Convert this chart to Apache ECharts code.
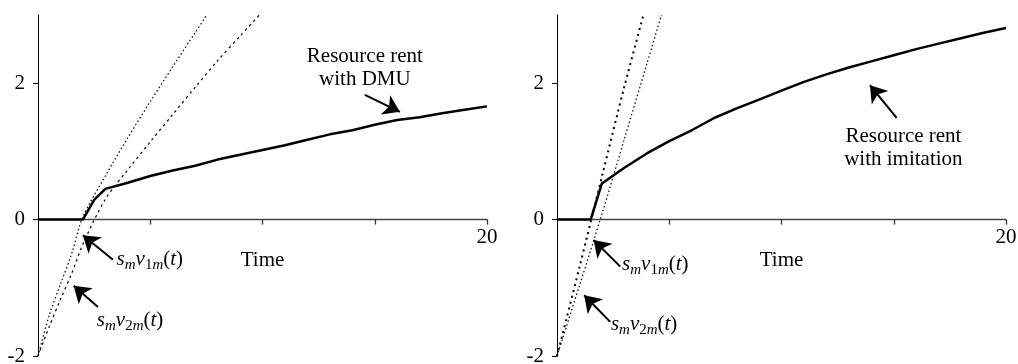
<!DOCTYPE html>
<html>
<head>
<meta charset="utf-8">
<title>Resource rent</title>
<script src="https://cdn.jsdelivr.net/npm/echarts@6/dist/echarts.min.js"></script>
<style>
  html, body { margin: 0; padding: 0; background: #fff; }
  #main { width: 1018px; height: 364px; }
</style>
</head>
<body>
<div id="main"></div>
<script>
'use strict';
// ---- data ----
// left panel: resource rent with DMU
var timeDMU = [0, 1, 2, 2.5, 3, 4, 5, 6, 7, 8, 9, 10, 11, 12, 13, 14, 15, 16, 17, 18, 19, 20];
var rentDMU = [0, 0, 0, 0.29, 0.45, 0.54, 0.64, 0.72, 0.79, 0.88, 0.95, 1.02, 1.09, 1.17, 1.25, 1.31, 1.39, 1.46, 1.50, 1.56, 1.61, 1.66];
var timeV1Left = [0, 0.5, 1, 1.5, 2, 3, 4, 5, 6, 7, 7.5];
var v1Left = [-2, -1.4, -0.95, -0.5, 0.04, 0.64, 1.2, 1.73, 2.24, 2.74, 2.99];
var timeV2Left = [0, 0.5, 1, 1.5, 2, 3, 4, 5, 6, 7, 8, 9, 10];
var v2Left = [-2, -1.57, -1.17, -0.79, -0.36, 0.3, 0.73, 1.14, 1.54, 1.94, 2.33, 2.69, 3.05];

// right panel: resource rent with imitation
var timeImit = [0, 1, 1.5, 2, 3, 4, 5, 6, 7, 8, 9, 10, 11, 12, 13, 14, 15, 16, 17, 18, 19, 20];
var rentImit = [0, 0, 0, 0.53, 0.76, 0.97, 1.15, 1.31, 1.49, 1.63, 1.76, 1.89, 2.02, 2.13, 2.23, 2.32, 2.41, 2.50, 2.58, 2.66, 2.74, 2.81];
var timeV1Right = [0, 1, 2, 3, 3.85];
var v1Right = [-2, -0.7, 0.63, 1.95, 3.0];
var timeV2Right = [0, 1, 2, 3, 4, 4.65];
var v2Right = [-2, -0.97, 0.08, 1.18, 2.28, 3.0];

// axis ticks / labels
var yTicks = [-2, 0, 2];
var xTicks = [5, 10, 15, 20];
var xEndLabel = 20;

var FONT = 'Liberation Serif';

function pairs(xs, ys) {
    return xs.map(function (x, i) { return [x, ys[i]]; });
}

// s_m v_{k m}(t) as rich text
var richSub = {
    i:  { fontFamily: FONT, fontSize: 21, fontStyle: 'italic', color: '#000', verticalAlign: 'top', lineHeight: 23 },
    n:  { fontFamily: FONT, fontSize: 21, color: '#000', verticalAlign: 'top', lineHeight: 23 },
    s:  { fontFamily: FONT, fontSize: 15, color: '#000', verticalAlign: 'top', lineHeight: 16, padding: [9, 0, 0, 0] },
    si: { fontFamily: FONT, fontSize: 15, fontStyle: 'italic', color: '#000', verticalAlign: 'top', lineHeight: 16, padding: [9, 0, 0, 0] }
};
function vLabel(k, coord) {
    return {
        coord: coord,
        label: {
            show: true,
            position: 'right',
            distance: 0,
            formatter: '{i|s}{si|m}{i|v}{s|' + k + '}{si|m}{n|(}{i|t}{n|)}',
            rich: richSub
        }
    };
}
function textLabel(text, coord) {
    return {
        coord: coord,
        label: {
            show: true,
            position: 'inside',
            formatter: text,
            fontFamily: FONT,
            fontSize: 21,
            lineHeight: 23,
            color: '#000',
            align: 'center'
        }
    };
}
function arrow(from, to) {
    return [{ coord: from }, { coord: to }];
}

function xAxisFor(idx) {
    return {
        type: 'value', gridIndex: idx, min: 0, max: 20,
        axisLine: { show: true, onZero: true, lineStyle: { color: '#444', width: 1.3 } },
        axisTick: { show: true, customValues: xTicks, length: 5, lineStyle: { color: '#333', width: 1.3 } },
        axisLabel: { show: false },
        splitLine: { show: false }
    };
}
function yAxisFor(idx) {
    return {
        type: 'value', gridIndex: idx, min: -2, max: 3,
        axisLine: { show: true, onZero: false, lineStyle: { color: '#000', width: 1 } },
        axisTick: { show: true, customValues: yTicks, length: 5, lineStyle: { color: '#000' } },
        axisLabel: { customValues: yTicks, margin: 13, fontFamily: FONT, fontSize: 21, color: '#000' },
        splitLine: { show: false }
    };
}

function dotted(idx, data, width, dash) {
    return {
        type: 'line', xAxisIndex: idx, yAxisIndex: idx,
        data: data, showSymbol: false, smooth: 0.3, silent: true,
        lineStyle: { color: '#000', width: width, type: dash }
    };
}

var myChart = echarts.init(document.getElementById('main'));
var option = {
    animation: false,
    backgroundColor: '#fff',
    grid: [
        { left: 38, right: 531, top: 15, bottom: 8, outerBoundsMode: 'none', containLabel: false },
        { left: 557, right: 12, top: 15, bottom: 8, outerBoundsMode: 'none', containLabel: false }
    ],
    xAxis: [xAxisFor(0), xAxisFor(1)],
    yAxis: [yAxisFor(0), yAxisFor(1)],
    series: [
        dotted(0, pairs(timeV1Left, v1Left), 1.2, [1.5, 2.5]),
        dotted(0, pairs(timeV2Left, v2Left), 1.2, [2.5, 3.5]),
        {
            name: 'Resource rent with DMU',
            type: 'line', xAxisIndex: 0, yAxisIndex: 0,
            data: pairs(timeDMU, rentDMU), showSymbol: false, silent: true, z: 3,
            lineStyle: { color: '#000', width: 2.5 },
            markPoint: {
                symbol: 'circle', symbolSize: 0, silent: true,
                data: [
                    textLabel('Resource rent\nwith DMU', [14.56, 2.22]),
                    textLabel(String(xEndLabel), [xEndLabel, -0.26]),
                    textLabel('Time', [10, -0.6]),
                    vLabel('1', [3.5, -0.6]),
                    vLabel('2', [2.62, -1.49])
                ]
            },
            markLine: {
                symbol: ['none', 'arrow'], symbolSize: 16, silent: true,
                label: { show: false },
                lineStyle: { color: '#000', width: 2, type: 'solid' },
                data: [
                    arrow([14.56, 1.83], [16.12, 1.58]),
                    arrow([3.34, -0.59], [2.0, -0.23]),
                    arrow([2.67, -1.28], [1.59, -0.97])
                ]
            }
        },
        dotted(1, pairs(timeV1Right, v1Right), 2, [2, 4]),
        dotted(1, pairs(timeV2Right, v2Right), 1.2, [1.5, 2.5]),
        {
            name: 'Resource rent with imitation',
            type: 'line', xAxisIndex: 1, yAxisIndex: 1,
            data: pairs(timeImit, rentImit), showSymbol: false, silent: true, z: 3,
            lineStyle: { color: '#000', width: 2.5 },
            markPoint: {
                symbol: 'circle', symbolSize: 0, silent: true,
                data: [
                    textLabel('Resource rent\nwith imitation', [15.43, 1.05]),
                    textLabel(String(xEndLabel), [xEndLabel, -0.26]),
                    textLabel('Time', [10, -0.6]),
                    vLabel('1', [2.9, -0.67]),
                    vLabel('2', [2.4, -1.55])
                ]
            },
            markLine: {
                symbol: ['none', 'arrow'], symbolSize: 16, silent: true,
                label: { show: false },
                lineStyle: { color: '#000', width: 2, type: 'solid' },
                data: [
                    arrow([15.13, 1.49], [13.94, 1.97]),
                    arrow([2.82, -0.69], [1.63, -0.30]),
                    arrow([2.37, -1.5], [1.21, -1.11])
                ]
            }
        }
    ]
};
myChart.setOption(option);
</script>
</body>
</html>
